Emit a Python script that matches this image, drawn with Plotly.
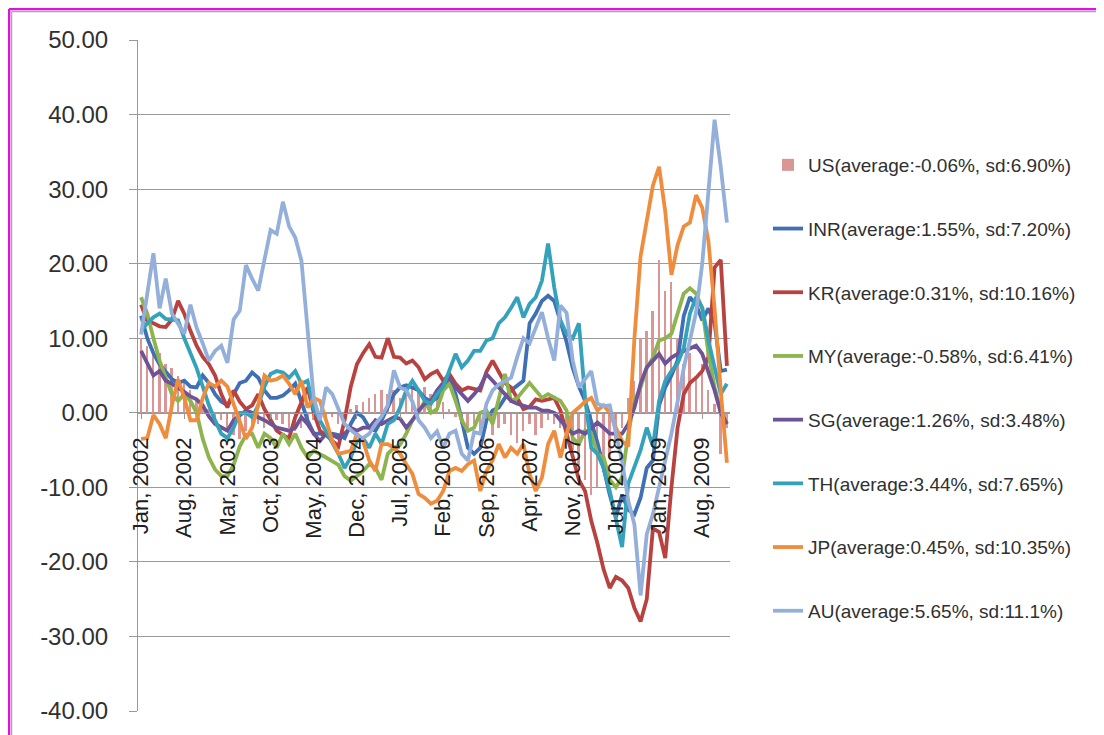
import plotly.graph_objects as go

month_names = ["Jan", "Feb", "Mar", "Apr", "May", "Jun", "Jul", "Aug", "Sep", "Oct", "Nov", "Dec"]
years = [2002, 2003, 2004, 2005, 2006, 2007, 2008, 2009]
categories = [f"{m}, {y}" for y in years for m in month_names]
tick_labels = categories[::7]
y_ticks = [50, 40, 30, 20, 10, 0, -10, -20, -30, -40]
y_tick_text = ["50.00", "40.00", "30.00", "20.00", "10.00", "0.00",
               "-10.00", "-20.00", "-30.00", "-40.00"]

us = [10, 9, 8.5, 8, 6.5, 6, 5, 4, 3, 2, 1, 0.5, -0.5, -1, -2.5, -3, -3.5, -2.5, -2, -1.5,
      -2, -1.5, -1, -1.5, -2, -2.5, -2, -1.5, -1, -1.5, -1, -0.5, -1.5, -1, 0.5, 1, 1.5, 2, 2.5, 3,
      2.5, 3, 2, 3, 3.5, 3, 3.5, 2.5, 2, 1.5, 0.5, -0.5, -1.5, -2, -1.5, -2.5, -2, -3, -2, -1.5,
      -3, -4, -2.5, -1.5, -3, -2, -1, -1.5, -2, -3, -5, -7, -9, -11, -10, -8, -6, -4, -2, 2,
      4.3, 10, 11, 13.7, 20.5, 16.4, 17.5, 10, 6.6, 8, 5, 6.6, 3, 1.2, -5.5, -2]

inr = [13, 10, 8, 6.5, 5.5, 4.5, 4, 4.3, 3.5, 3.4, 5, 4, 2.5, 1.5, 1, 2.5, 4, 4.3, 5.4, 4.7,
       3, 2, 2, 2.3, 3, 3.9, 1.5, -1, -2.8, -2.8, -3, -2.8, -3, -3.4, -1.5, 0, -0.6, -2, -2.4, -1,
       0.7, 2.5, 3.4, 3.7, 3.4, 3, 2, 1.5, 2, 3.5, 4.3, 2.5, -1, -4.7, -5.5, -4.7, -1, 0.3, 0.7, 2,
       3, 3.6, 4.3, 12, 13.3, 15, 15.7, 15, 12.4, 9.5, 6, 3.5, 1.6, -1, -4, -7.4, -11, -14, -11, -13,
       -13.6, -11.4, -7.4, -6.4, 1, 3.4, 5, 7, 13, 15.5, 14.5, 12.4, 14, 12, 5.6, 5.8]

kr = [14.5, 12.3, 12, 11.6, 11.5, 12.5, 15, 13.3, 11, 9, 7.5, 6.5, 5, 2.5, 0.7, 3, 1.5, 0.5, 1, 2.5,
      0.5, -1, -2.4, -3, -3.4, -0.6, 1.5, 3.4, 0, -2.4, -3, -3.8, -4.5, -1, 3.5, 6.5, 8, 9.2, 7.5, 7.4,
      10, 7.5, 7.4, 6.6, 7, 6.1, 4.5, 5.2, 5.6, 4.3, 5.2, 3.9, 3, 3.4, 3.2, 3, 5.5, 7, 5.5, 4,
      3.4, 2, 0.5, 0.8, 1.8, 1.6, 1.8, 2, 0.3, -2.8, -6, -9, -10.5, -14.5, -17.5, -21, -23.5, -22, -22.5, -23.5,
      -26.2, -28, -25, -15.5, -16, -19.5, -10, -2, 2.5, 4, 4.7, 5.6, 7.5, 19.5, 20.5, 6.3]

my = [15.5, 13.3, 10, 7, 4.7, 2.5, 1.6, 2.5, 1.6, 0, -3.5, -6, -7.6, -8.5, -8.5, -7, -4.5, -3, -2.8, -4.7,
      -2.8, -3.4, -4.7, -2.8, -4.2, -2.8, -4.7, -6, -5.1, -5.5, -6, -6.5, -7, -8.5, -9.1, -8.5, -7.8, -6.9, -7.4, -9,
      -5.5, -4.7, -4.3, -2.8, -1, 0, 1.6, 0, 0.5, 3, 3.9, 1.6, -1, -2.4, -2, 0, 0.3, -1.5, 2, 5.2,
      1.6, 2, 3, 4, 3, 2, 2.5, 2, 1.6, 0.3, -3.4, -4.2, -2.4, -2.8, -5.5, -6, -9, -10, -8.7, -2.8,
      1.6, 3.4, 6, 7.4, 9.7, 10, 10.6, 13.3, 16, 16.7, 16, 14, 8, 3.4, 0.3, -1.5]

sg = [8.3, 6.5, 5, 5.6, 4.3, 3.9, 3.4, 2.8, 2.2, 1.8, 1, -0.5, -1.5, -2, -2.4, -1, -0.3, 0.3, 0, -0.6,
      -1, -1.5, -2, -2.2, -2.4, -2, -0.6, -1.5, -2.8, -3.8, -2.8, -3, -3.4, -2.8, -2, -2.4, -2, -2, -1, -1.5,
      -1, -0.6, -0.8, -2, -1, 0.3, 1.2, 1.6, 3, 4, 4.7, 3.4, 2.5, 1.6, 2.5, 3.5, 5.2, 4.3, 3.4, 2.5,
      1.6, 1.2, 0.9, 0.7, 0.7, 0.3, 0.3, 0, -1, -2, -2.8, -2.4, -2.8, -2, -1.3, -2, -2.8, -2.8, -2.8, -1.5,
      0.7, 3.9, 6.1, 7, 7.9, 6.6, 7.4, 7.9, 8.3, 8.7, 9, 7.9, 5.6, 3, 0, -1.5]

th = [11, 12, 12.8, 13.3, 12.6, 12.5, 12.4, 10, 8, 6, 3.5, 1, -1, -2.8, -3.4, -2, 0, 0, -0.6, 1,
      3.5, 5.2, 5.6, 5.4, 4.7, 5.6, 3.9, 4.3, 0.5, -1, -2.4, -4, -5.5, -7.4, -6, -3.8, -3.4, -4.7, -2.8, -4.2,
      -1.5, -1, 0.7, 3, 4.3, 3, 1.6, 1.2, 2.5, 3.5, 5.6, 7.9, 6.1, 7, 8.3, 8.3, 9.7, 10, 12, 12.8,
      14.1, 15.5, 12.8, 14.6, 15.5, 17.7, 22.7, 16.8, 12.4, 10.6, 10, 12, 2, -4.7, -5.5, -7.4, -10.5, -14, -18, -9.5,
      -7.4, -5, -2, -4.5, 1.6, 4.3, 5.6, 6.6, 8.7, 13.3, 15.5, 14.1, 9.7, 6.1, 2.5, 3.9]

jp = [-3.5, -3.4, -0.3, -1.5, -3.4, 1, 4.5, 2, -1, -1, 2, 4, 3.5, 4.3, 3.5, 1.2, -1, -3.5, -2, 1,
      5, 4.3, 4.5, 5, 3.9, 2.5, 4.3, 0.7, 2, 1.6, -1, -3.8, -5.5, -5.3, -5.1, -2.8, -3.8, -6.4, -7.8, -4.2,
      -4.2, -4.7, -5.5, -6.9, -8.2, -10.9, -11.4, -12.2, -11.8, -10.5, -7.8, -7.4, -7.8, -6.9, -6.4, -10.5, -7.8, -6.4, -4.2, -6,
      -4.7, -5.5, -4.2, -8.2, -10.5, -8.7, -4.2, -2.4, -6, -2.8, 0, 0.7, 1.5, 2, 0.3, 1, 0, -2, -3.8, -4.5,
      10, 21, 26, 30.5, 33, 27, 18.5, 22.5, 25, 25.5, 29.2, 27.5, 23, 14, 3, -6.7]

au = [10.5, 16, 21.4, 14, 18, 13.3, 12, 10.6, 14.5, 11.4, 9.3, 7, 8.3, 9, 6.7, 12.5, 13.7, 19.8, 18, 16.4,
      20.5, 24.5, 24, 28.3, 25, 23.5, 20.4, 10.5, 2, -1, 3.4, 2.5, 0.5, -1.5, -2.3, -3, -3.4, -2.8, -1.5, -0.5,
      1, 5.7, 3.4, 3, 1.5, -1, -2, -3.4, -2.5, -4.7, -2.8, -2.4, -5.5, -6.4, -2.6, -2.8, 1.2, 3, 3.8, 4.3,
      4.7, 7.5, 10, 9.3, 11.4, 13.5, 10, 7, 14.4, 13.4, 7, 3.4, 4.5, 5.6, 1.2, 0.9, 1, -3, -6.5, -11.8,
      -15, -24.5, -16.3, -13.6, -10, -6, -2.8, 1.5, 6, 9.7, 13.5, 20, 30, 39.3, 33, 25.5]

line_series = [
    ("INR(average:1.55%, sd:7.20%)", inr, "#3F6FB4"),
    ("KR(average:0.31%, sd:10.16%)", kr, "#B8423F"),
    ("MY(average:-0.58%, sd:6.41%)", my, "#8DB44E"),
    ("SG(average:1.26%, sd:3.48%)", sg, "#6E5496"),
    ("TH(average:3.44%, sd:7.65%)", th, "#35A2BB"),
    ("JP(average:0.45%, sd:10.35%)", jp, "#F08D3C"),
    ("AU(average:5.65%, sd:11.1%)", au, "#93AFDA"),
]

fig = go.Figure()
fig.add_trace(go.Bar(x=categories, y=us, name="US(average:-0.06%, sd:6.90%)",
                     marker=dict(color="#D99694", line=dict(width=0)), width=0.3,
                     legendgroup="us"))
for name, vals, col in line_series:
    fig.add_trace(go.Scatter(x=categories, y=vals, name=name, mode="lines",
                             line=dict(color=col, width=3.8), legendgroup=name))

# page offset of 8px (body margin) is compensated for in these figure coordinates
OFF = 8
L, T, W, H = 138 - OFF, 40 - OFF, 592, 671
def xp(px):
    return (px - OFF - L) / W
def yp(py):
    return (T + H - (py - OFF)) / H

shapes = [
    dict(type="line", xref="paper", yref="paper", x0=xp(11.5), x1=xp(11.5), y0=yp(11.5), y1=yp(760),
         line=dict(color="#A8A8A8", width=1.5)),
    dict(type="line", xref="paper", yref="paper", x0=xp(11.5), x1=xp(1120), y0=yp(11.5), y1=yp(11.5),
         line=dict(color="#A8A8A8", width=1.5)),
    dict(type="line", xref="paper", yref="paper", x0=xp(9), x1=xp(9), y0=yp(9), y1=yp(760),
         line=dict(color="#E010E0", width=2.5)),
    dict(type="line", xref="paper", yref="paper", x0=xp(9), x1=xp(1120), y0=yp(9), y1=yp(9),
         line=dict(color="#E010E0", width=2.5)),
]

fig.update_layout(
    width=1104, height=735,
    margin=dict(l=L, r=1104 - L - W, t=T, b=735 - T - H),
    paper_bgcolor="white", plot_bgcolor="white",
    font=dict(family="Liberation Sans, Arial, sans-serif", color="#303030"),
    bargap=0,
    showlegend=True,
    legend=dict(x=xp(768), y=yp(146), xanchor="left", yanchor="top",
                font=dict(size=19, color="#303030"), tracegroupgap=36,
                bgcolor="rgba(0,0,0,0)", itemwidth=30),
    shapes=shapes,
    xaxis=dict(type="category", range=[-0.5, 95.5], anchor="free", position=40 / 90,
               tickmode="array", tickvals=tick_labels, ticktext=tick_labels,
               tickangle=-90, tickfont=dict(size=22, color="#202020"),
               showline=True, linecolor="#999999", linewidth=1,
               ticks="outside", ticklen=5, tickcolor="#999999",
               showgrid=False, ticklabelstandoff=10),
    yaxis=dict(range=[-40, 50], tickmode="array", tickvals=y_ticks, ticktext=y_tick_text,
               showline=True, linecolor="#999999", linewidth=1,
               ticks="outside", ticklen=8, tickcolor="#999999",
               showgrid=True, gridcolor="#9A9A9A", gridwidth=1, zeroline=False,
               tickfont=dict(size=24, color="#303030"), ticklabelstandoff=16),
)

fig.write_html("out.html")
